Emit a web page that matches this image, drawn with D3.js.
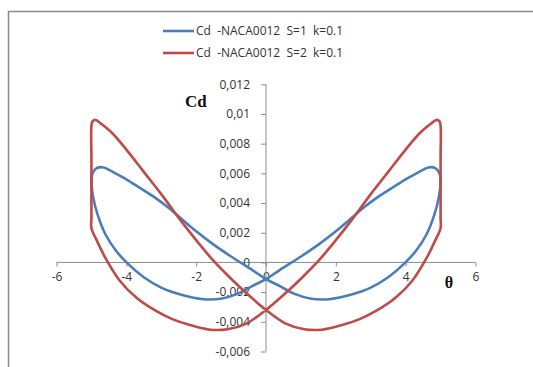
<!DOCTYPE html>
<html>
<head>
<meta charset="utf-8">
<script src="https://cdn.jsdelivr.net/npm/d3@7"></script>
<style>
  html, body { margin: 0; padding: 0; background: #fff; }
  svg { display: block; }
  text { white-space: pre; }
</style>
</head>
<body>
<svg id="chart" width="533" height="367"></svg>
<script>
// ---------- data ----------
const seriesNames = ["Cd  -NACA0012  S=1  k=0.1", "Cd  -NACA0012  S=2  k=0.1"];
const seriesColors = ["#4a7ebb", "#be4b48"];

// S=1 loop (theta, Cd) in path order
const s1Theta = [-5.00, -4.95, -4.82, -4.60, -4.30, -3.95, -3.50, -3.00, -2.40, -1.80, -1.30, -0.80, -0.40, 0.00,
                 0.40, 1.00, 1.50, 2.00, 2.50, 2.80, 3.20, 3.60, 4.00, 4.35, 4.65, 4.85, 4.97,
                 5.00, 4.95, 4.82, 4.60, 4.30, 3.95, 3.50, 3.00, 2.40, 1.80, 1.30, 0.80, 0.40, 0.00,
                 -0.40, -1.00, -1.50, -2.00, -2.50, -2.80, -3.20, -3.60, -4.00, -4.35, -4.65, -4.85, -4.97];
const s1Cd = [0.0055, 0.0044, 0.0032, 0.0019, 0.0008, -0.0001, -0.0010, -0.0017, -0.0022, -0.00248, -0.00245, -0.0021, -0.0016, -0.00113,
              -0.0005, 0.0004, 0.0012, 0.0021, 0.0031, 0.0037, 0.0044, 0.0050, 0.0056, 0.00605, 0.0064, 0.00635, 0.0060,
              0.0055, 0.0044, 0.0032, 0.0019, 0.0008, -0.0001, -0.0010, -0.0017, -0.0022, -0.00248, -0.00245, -0.0021, -0.0016, -0.00113,
              -0.0005, 0.0004, 0.0012, 0.0021, 0.0031, 0.0037, 0.0044, 0.0050, 0.0056, 0.00605, 0.0064, 0.00635, 0.0060];

// S=2 loop (theta, Cd) in path order
const s2Theta = [-5.00, -4.85, -4.60, -4.20, -3.70, -3.20, -2.70, -2.20, -1.60, -1.10, -0.55, 0.00,
                 0.50, 1.00, 1.50, 2.00, 2.50, 3.00, 3.50, 4.00, 4.40, 4.70, 4.88, 4.97, 5.00,
                 5.00, 5.00, 5.00, 5.00,
                 4.85, 4.60, 4.20, 3.70, 3.20, 2.70, 2.20, 1.60, 1.10, 0.55, 0.00,
                 -0.50, -1.00, -1.50, -2.00, -2.50, -3.00, -3.50, -4.00, -4.40, -4.70, -4.88, -4.97, -5.00,
                 -5.00, -5.00, -5.00];
const s2Cd = [0.0023, 0.0015, 0.0003, -0.0012, -0.0024, -0.0032, -0.0038, -0.0042, -0.00453, -0.0045, -0.0041, -0.0032,
              -0.0022, -0.0011, 0.0001, 0.0015, 0.0030, 0.0046, 0.0061, 0.0076, 0.0087, 0.0093, 0.0096, 0.0095, 0.0092,
              0.0070, 0.0045, 0.0030, 0.0023,
              0.0015, 0.0003, -0.0012, -0.0024, -0.0032, -0.0038, -0.0042, -0.00453, -0.0045, -0.0041, -0.0032,
              -0.0022, -0.0011, 0.0001, 0.0015, 0.0030, 0.0046, 0.0061, 0.0076, 0.0087, 0.0093, 0.0096, 0.0095, 0.0092,
              0.0070, 0.0045, 0.0030];

const xTicks = [-6, -4, -2, 0, 2, 4, 6];
const xTickLabels = ["-6", "-4", "-2", "0", "2", "4", "6"];
const yTicks = [-0.006, -0.004, -0.002, 0, 0.002, 0.004, 0.006, 0.008, 0.01, 0.012];
const yTickLabels = ["-0,006", "-0,004", "-0,002", "0", "0,002", "0,004", "0,006", "0,008", "0,01", "0,012"];

// ---------- drawing ----------
const svg = d3.select("#chart");
const font = "'Open Sans', 'Noto Sans', sans-serif";

// chart frame
svg.append("rect")
  .attr("x", 8.5).attr("y", 11.5).attr("width", 540).attr("height", 370)
  .attr("fill", "#fff").attr("stroke", "#8a8a8a").attr("stroke-width", 1.5);

const x = d3.scaleLinear().domain([-6, 6]).range([56.5, 475.5]);
const y = d3.scaleLinear().domain([-0.006, 0.012]).range([351.5, 84.3]);

const axisColor = "#8c8c8c";
const labelColor = "#333333";

// x axis at Cd = 0
const xAxis = d3.axisBottom(x).tickValues(xTicks).tickSize(4)
  .tickFormat((d, i) => xTickLabels[i]);
const gx = svg.append("g").attr("transform", `translate(0,${y(0)})`).call(xAxis);
gx.select(".domain").attr("stroke", axisColor).attr("d", `M${x(-6)},0H${x(6)}`);
gx.selectAll(".tick line").attr("stroke", axisColor);
gx.selectAll(".tick text").attr("fill", labelColor).attr("font-family", font)
  .attr("font-size", 12).attr("y", 14).attr("dy", "0.35em");

// y axis at theta = 0
const yAxis = d3.axisLeft(y).tickValues(yTicks).tickSize(5)
  .tickFormat((d, i) => yTickLabels[i]);
const gy = svg.append("g").attr("transform", `translate(${x(0)},0)`).call(yAxis);
gy.select(".domain").attr("stroke", axisColor).attr("d", `M0,${y(0.012)}V${y(-0.006)}`);
gy.selectAll(".tick line").attr("stroke", axisColor);
gy.selectAll(".tick text").attr("fill", labelColor).attr("font-family", font)
  .attr("font-size", 12).attr("x", -16);

// axis titles
svg.append("text").attr("x", 185).attr("y", 107)
  .attr("font-family", "'Liberation Serif', 'DejaVu Serif', serif")
  .attr("font-weight", "bold").attr("font-size", 17).attr("fill", "#111").text("Cd");
svg.append("text").attr("x", 449).attr("y", 288).attr("text-anchor", "middle")
  .attr("font-family", "'Liberation Serif', 'DejaVu Serif', serif")
  .attr("font-weight", "bold").attr("font-size", 16).attr("fill", "#111").text("θ");

// series loops
const line = d3.line()
  .x(d => x(d[0])).y(d => y(d[1]))
  .curve(d3.curveCatmullRomClosed.alpha(0.5));

const loops = [
  s1Theta.map((t, i) => [t, s1Cd[i]]),
  s2Theta.map((t, i) => [t, s2Cd[i]])
];

loops.forEach((pts, k) => {
  svg.append("path")
    .attr("d", line(pts))
    .attr("fill", "none")
    .attr("stroke", seriesColors[k])
    .attr("stroke-width", 2.6)
    .attr("stroke-linejoin", "round");
});

// legend
const legendY = [31, 53];
seriesNames.forEach((name, k) => {
  svg.append("line")
    .attr("x1", 163).attr("x2", 194)
    .attr("y1", legendY[k]).attr("y2", legendY[k])
    .attr("stroke", seriesColors[k]).attr("stroke-width", 2.6);
  svg.append("text")
    .attr("x", 196).attr("y", legendY[k]).attr("dy", "0.36em")
    .attr("font-family", font).attr("font-size", 12).attr("fill", labelColor)
    .attr("xml:space", "preserve")
    .text(name);
});
</script>
</body>
</html>
